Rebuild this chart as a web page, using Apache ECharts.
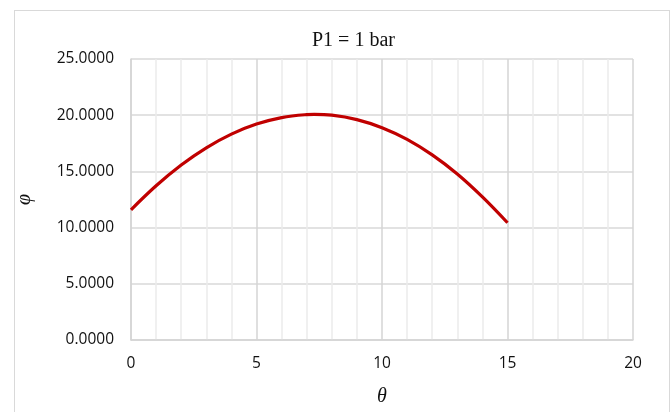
<!DOCTYPE html>
<html>
<head>
<meta charset="utf-8">
<script src="https://cdn.jsdelivr.net/npm/echarts@6/dist/echarts.min.js"></script>
<style>
  html, body { margin: 0; padding: 0; background: #fff; }
  #frame { position: absolute; left: 14px; top: 10px; width: 656px; height: 410px; border: 1px solid #d9d9d9; box-sizing: border-box; }
  #chart { position: absolute; left: 0; top: 0; width: 671px; height: 412px; }
</style>
</head>
<body>
<div id="frame"></div>
<div id="chart"></div>
<script>
// θ samples and the corresponding φ values for P1 = 1 bar (7.3 is the crest)
const theta = [0, 1, 2, 3, 4, 5, 6, 7, 7.3, 8, 9, 10, 11, 12, 13, 14, 15];
const phi = [11.58, 13.72, 15.57, 17.10, 18.32, 19.21, 19.79, 20.05, 20.07, 20.00, 19.61, 18.89, 17.85, 16.47, 14.77, 12.73, 10.43];
const titleText = 'P1 = 1 bar';
const xName = 'θ';
const yName = 'φ';

const chart = echarts.init(document.getElementById('chart'), null, { renderer: 'canvas' });
const labelFont = { fontFamily: '"Open Sans", Lato, sans-serif', fontSize: 15.5, color: '#111' };

chart.setOption({
  animation: false,
  title: {
    text: titleText,
    left: 307, top: 26,
    textStyle: { fontFamily: '"Liberation Serif", serif', fontSize: 20, fontWeight: 'normal', color: '#111' }
  },
  grid: { left: 131, right: 38, top: 59, bottom: 70, containLabel: false },
  xAxis: {
    type: 'value', min: 0, max: 20, interval: 5,
    name: xName, nameLocation: 'middle', nameGap: 47,
    nameTextStyle: { fontFamily: '"Liberation Serif", serif', fontStyle: 'italic', fontSize: 20, color: '#111' },
    axisLine: { show: true, lineStyle: { color: '#d4d4d4', width: 1.5 } },
    axisTick: { show: false },
    axisLabel: Object.assign({ margin: 16 }, labelFont),
    splitLine: { show: true, lineStyle: { color: '#d4d4d4', width: 1.5 } },
    minorTick: { show: false, splitNumber: 5 },
    minorSplitLine: { show: true, lineStyle: { color: '#ececec', width: 1.5 } }
  },
  yAxis: {
    type: 'value', min: 0, max: 25, interval: 5,
    name: yName, nameLocation: 'middle', nameGap: 96, nameRotate: 90,
    nameTextStyle: { fontFamily: '"Liberation Serif", serif', fontStyle: 'italic', fontSize: 20, color: '#111' },
    axisLine: { show: true, lineStyle: { color: '#d4d4d4', width: 1.5 } },
    axisTick: { show: false },
    axisLabel: Object.assign({ margin: 17, formatter: v => v.toFixed(4) }, labelFont),
    splitLine: { show: true, lineStyle: { color: '#d9d9d9', width: 1.5 } }
  },
  series: [{
    type: 'line',
    data: theta.map((t, i) => [t, phi[i]]),
    smooth: 0.4,
    showSymbol: false,
    lineStyle: { color: '#c00000', width: 3.2 }
  }]
});
</script>
</body>
</html>
